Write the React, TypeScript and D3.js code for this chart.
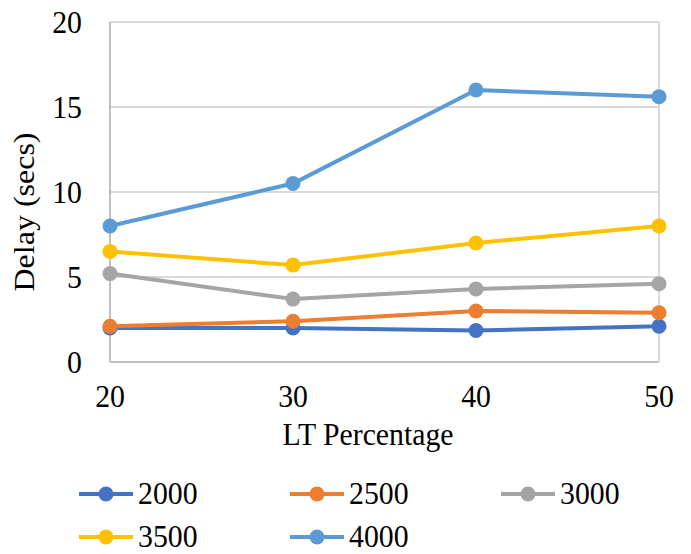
import React, { useEffect, useRef } from "react";
import * as d3 from "d3";

const categories = [20, 30, 40, 50];
const seriesNames = ["2000", "2500", "3000", "3500", "4000"];
const series2000 = [2.0, 2.0, 1.85, 2.1];
const series2500 = [2.1, 2.4, 3.0, 2.9];
const series3000 = [5.2, 3.7, 4.3, 4.6];
const series3500 = [6.5, 5.7, 7.0, 8.0];
const series4000 = [8.0, 10.5, 16.0, 15.6];
const yTicks = [0, 5, 10, 15, 20];
const colors = ["#4472C4", "#ED7D31", "#A5A5A5", "#FFC000", "#5B9BD5"];

const allSeries = [series2000, series2500, series3000, series3500, series4000];

const W = 691;
const H = 554;
const left = 110;
const right = 659;
const top = 22;
const bottom = 362;
const FONT = '"Liberation Serif"';
const SX = 0.93; // slightly condensed glyphs

function Label(props: {
  x: number;
  y: number;
  anchor?: "start" | "middle" | "end";
  size: number;
  rotate?: number;
  children: React.ReactNode;
}) {
  const { x, y, anchor = "start", size, rotate = 0, children } = props;
  const t = rotate
    ? `translate(${x},${y}) rotate(${rotate}) scale(1,${SX})`
    : `translate(${x},${y}) scale(${SX},1)`;
  return (
    <g transform={t}>
      <text textAnchor={anchor} fontSize={size} fill="#000">
        {children}
      </text>
    </g>
  );
}

export default function App() {
  const svgRef = useRef<SVGSVGElement | null>(null);
  const x = d3.scaleLinear().domain([20, 50]).range([left, right]);
  const y = d3.scaleLinear().domain([0, 20]).range([bottom, top]);
  const line = d3
    .line<number>()
    .x((_, i) => x(categories[i]))
    .y((d) => y(d));

  useEffect(() => {
    if (!svgRef.current) return;
    d3.select(svgRef.current)
      .selectAll<SVGTextElement, unknown>("text")
      .each(function () {
        this.style.setProperty("font-family", FONT, "important");
      });
  }, []);

  const legendPos = [
    { x: 79, y: 494 },
    { x: 290, y: 494 },
    { x: 501, y: 494 },
    { x: 79, y: 537 },
    { x: 290, y: 537 },
  ];

  return (
    <div style={{ position: "absolute", left: 0, top: 0, width: W, height: H, background: "#fff" }}>
      <svg ref={svgRef} width={W} height={H}>
        {/* horizontal gridlines */}
        {yTicks.map((t) => (
          <line
            key={t}
            x1={left}
            x2={right}
            y1={y(t)}
            y2={y(t)}
            stroke={t === 0 ? "#bfbfbf" : "#d9d9d9"}
            strokeWidth={2}
          />
        ))}
        {/* plot borders */}
        <line x1={left} x2={left} y1={top} y2={bottom} stroke="#bfbfbf" strokeWidth={2} />
        <line x1={right} x2={right} y1={top} y2={bottom} stroke="#d9d9d9" strokeWidth={2} />

        {/* y tick labels */}
        {yTicks.map((t) => (
          <Label key={t} x={82} y={y(t) + 11} anchor="end" size={32}>
            {t}
          </Label>
        ))}
        {/* x tick labels */}
        {categories.map((c) => (
          <Label key={c} x={x(c)} y={407} anchor="middle" size={32}>
            {c}
          </Label>
        ))}

        <Label x={368} y={445} anchor="middle" size={32}>
          LT Percentage
        </Label>
        <Label x={34} y={212} anchor="middle" size={32} rotate={-90}>
          Delay (secs)
        </Label>

        {/* series */}
        {allSeries.map((s, si) => (
          <g key={si}>
            <path d={line(s) || ""} fill="none" stroke={colors[si]} strokeWidth={4} />
            {s.map((v, i) => (
              <circle key={i} cx={x(categories[i])} cy={y(v)} r={7.5} fill={colors[si]} />
            ))}
          </g>
        ))}

        {/* legend */}
        {seriesNames.map((n, i) => (
          <g key={n} transform={`translate(${legendPos[i].x},${legendPos[i].y})`}>
            <line x1={0} x2={54} y1={0} y2={0} stroke={colors[i]} strokeWidth={4} />
            <circle cx={27} cy={0} r={7.5} fill={colors[i]} />
            <Label x={59} y={10} size={32}>
              {n}
            </Label>
          </g>
        ))}
      </svg>
    </div>
  );
}
